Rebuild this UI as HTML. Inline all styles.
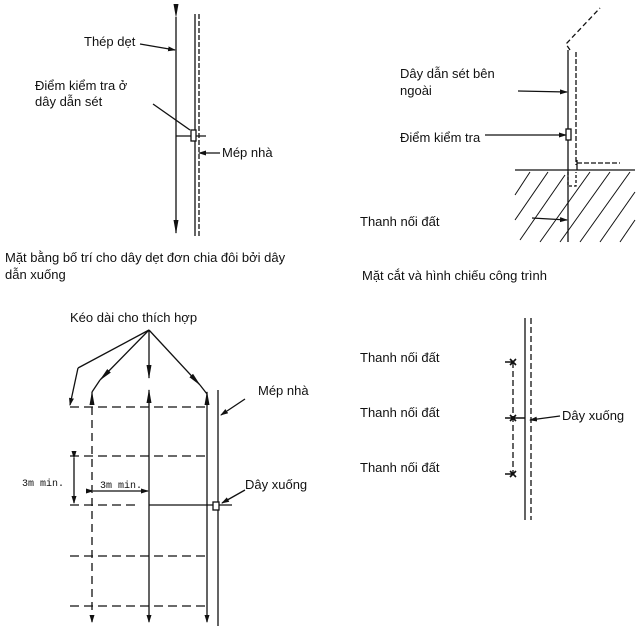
<!DOCTYPE html><html><head><meta charset="utf-8"><style>body{margin:0;background:#fff}svg{display:block}text{font-family:"Liberation Sans",sans-serif;font-size:13px;fill:#111}</style></head><body>
<svg width="644" height="630" viewBox="0 0 644 630" xmlns="http://www.w3.org/2000/svg">
<defs><marker id="a" markerWidth="8" markerHeight="8" refX="7" refY="4" orient="auto" markerUnits="userSpaceOnUse"><path d="M0,1.5 L8,4 L0,6.5z" fill="#111"/></marker>
<marker id="b" markerWidth="14" markerHeight="8" refX="13" refY="4" orient="auto" markerUnits="userSpaceOnUse"><path d="M0,1.5 L14,4 L0,6.5z" fill="#111"/></marker></defs>
<g stroke="#111" stroke-width="1.3" fill="none">
<!-- top-left -->
<line x1="176" y1="17" x2="176" y2="233" marker-start="url(#b)" marker-end="url(#b)"/>
<line x1="195" y1="14" x2="195" y2="236"/>
<line x1="199" y1="14" x2="199" y2="236" stroke-dasharray="5,2"/>
<line x1="140" y1="44" x2="175" y2="50" marker-end="url(#a)"/>
<line x1="153" y1="104" x2="190" y2="130"/>
<line x1="176" y1="136" x2="206" y2="136"/>
<rect x="191" y="130" width="5" height="11" fill="#fff"/>
<line x1="220" y1="153" x2="199" y2="153" marker-end="url(#a)"/>
<!-- top-right -->
<line x1="568" y1="50" x2="568" y2="242"/>
<line x1="576" y1="52" x2="576" y2="165" stroke-dasharray="5,2"/>
<polyline points="570,50 566,44 600,8" stroke-dasharray="5,3"/>
<line x1="577" y1="163" x2="620" y2="163" stroke-dasharray="5,2"/>
<line x1="577" y1="160" x2="577" y2="170"/>
<line x1="515" y1="170" x2="635" y2="170"/>
<path d="M568,172 v14 h8 v-14" stroke-dasharray="3,2"/>
<g stroke-width="1">
<line x1="515" y1="195" x2="530" y2="172"/><line x1="515" y1="220" x2="548" y2="172"/><line x1="520" y1="240" x2="565" y2="175"/><line x1="540" y1="242" x2="590" y2="172"/><line x1="560" y1="242" x2="610" y2="172"/><line x1="580" y1="242" x2="630" y2="172"/><line x1="600" y1="242" x2="635" y2="192"/><line x1="620" y1="242" x2="635" y2="220"/>
</g>
<line x1="518" y1="91" x2="567" y2="92" marker-end="url(#a)"/>
<rect x="566" y="129" width="5" height="11" fill="#fff"/>
<line x1="485" y1="135" x2="566" y2="135" marker-end="url(#a)"/>
<line x1="532" y1="218" x2="567" y2="220" marker-end="url(#a)"/>
<!-- bottom-left -->
<line x1="149" y1="330" x2="78" y2="368"/><line x1="78" y1="368" x2="70" y2="405" marker-end="url(#a)"/>
<line x1="149" y1="330" x2="100" y2="380" marker-end="url(#b)"/>
<line x1="100" y1="380" x2="92" y2="392" />
<line x1="149" y1="330" x2="200" y2="385" marker-end="url(#b)"/>
<line x1="200" y1="385" x2="207" y2="394"/>
<line x1="149" y1="330" x2="149" y2="378" marker-end="url(#b)"/>
<line x1="92" y1="405" x2="92" y2="392" marker-end="url(#b)"/>
<line x1="149" y1="405" x2="149" y2="390" marker-end="url(#b)"/>
<line x1="207" y1="405" x2="207" y2="392" marker-end="url(#b)"/>
<line x1="92" y1="407" x2="92" y2="622" stroke-dasharray="8,5" marker-end="url(#a)"/>
<line x1="149" y1="405" x2="149" y2="622" marker-end="url(#a)"/>
<line x1="207" y1="405" x2="207" y2="622" marker-end="url(#a)"/>
<line x1="218" y1="390" x2="218" y2="626"/>
<g stroke-dasharray="9,5">
<line x1="70" y1="407" x2="207" y2="407"/><line x1="70" y1="456" x2="207" y2="456"/><line x1="70" y1="505" x2="140" y2="505"/><line x1="70" y1="556" x2="207" y2="556"/><line x1="70" y1="606" x2="207" y2="606"/>
</g>
<line x1="149" y1="505" x2="232" y2="505"/>
<line x1="74" y1="458" x2="74" y2="503" marker-start="url(#a)" marker-end="url(#a)"/>
<line x1="93" y1="491" x2="148" y2="491" marker-start="url(#a)" marker-end="url(#a)"/>
<line x1="245" y1="399" x2="221" y2="415" marker-end="url(#a)"/>
<line x1="245" y1="490" x2="222" y2="503" marker-end="url(#a)"/>
<rect x="213" y="502" width="6" height="8" fill="#fff"/>
<!-- bottom-right -->
<line x1="525" y1="318" x2="525" y2="520"/>
<line x1="531" y1="318" x2="531" y2="520" stroke-dasharray="6,3"/>
<line x1="513" y1="362" x2="513" y2="475" stroke-dasharray="6,3"/>
<path d="M510,359l6,6M516,359l-6,6M505,362h8M510,415l6,6M516,415l-6,6M505,418h20M510,471l6,6M516,471l-6,6M505,474h8" stroke-width="1.6"/>
<line x1="560" y1="416" x2="530" y2="420" marker-end="url(#a)"/>
</g>
<text x="84" y="46">Thép dẹt</text>
<text x="35" y="90">Điểm  kiểm  tra  ở</text>
<text x="35" y="106">dây dẫn sét</text>
<text x="222" y="157">Mép nhà</text>
<text x="5" y="262">Mặt bằng bố trí cho dây dẹt đơn chia đôi bởi dây</text>
<text x="5" y="279">dẫn xuống</text>
<text x="400" y="78">Dây  dẫn  sét  bên</text>
<text x="400" y="95">ngoài</text>
<text x="400" y="142">Điểm kiểm tra</text>
<text x="360" y="226">Thanh nối đất</text>
<text x="362" y="280">Mặt cắt và hình chiếu công trình</text>
<text x="70" y="322">Kéo dài cho thích hợp</text>
<text x="258" y="395">Mép nhà</text>
<text x="245" y="489">Dây xuống</text>
<text x="22" y="486" style="font-size:10px;font-family:'Liberation Mono',monospace">3m min.</text>
<text x="100" y="488" style="font-size:10px;font-family:'Liberation Mono',monospace">3m min.</text>
<text x="360" y="362">Thanh nối đất</text>
<text x="360" y="417">Thanh nối đất</text>
<text x="360" y="472">Thanh nối đất</text>
<text x="562" y="420">Dây xuống</text>
</svg></body></html>
